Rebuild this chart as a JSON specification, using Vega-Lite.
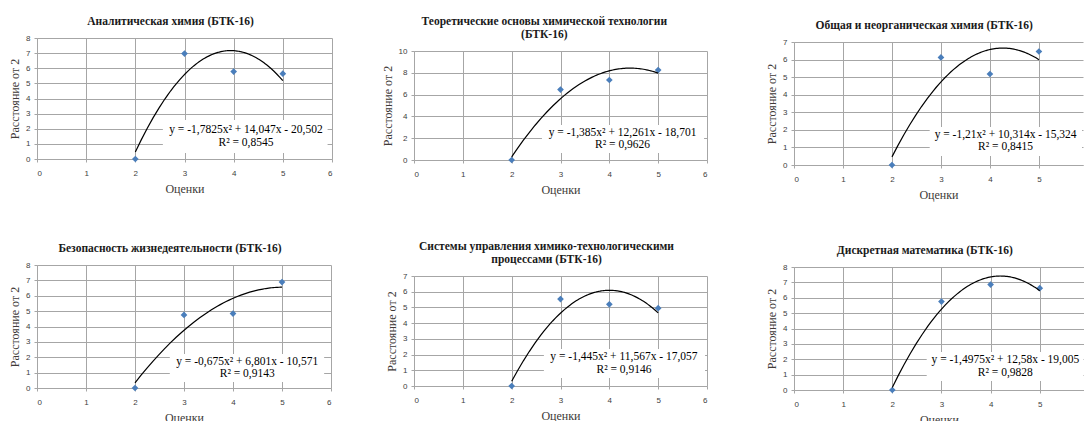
{
  "$schema": "https://vega.github.io/schema/vega-lite/v6.json",
  "padding": {"left": 8, "top": 3, "right": 0, "bottom": 0},
  "background": "white",
  "datasets": {
    "pts": [
      {"s": "A", "grade": 2, "dist": 0}, {"s": "A", "grade": 3, "dist": 6.97}, {"s": "A", "grade": 4, "dist": 5.78}, {"s": "A", "grade": 5, "dist": 5.64},
      {"s": "B", "grade": 2, "dist": 0}, {"s": "B", "grade": 3, "dist": 6.46}, {"s": "B", "grade": 4, "dist": 7.34}, {"s": "B", "grade": 5, "dist": 8.25},
      {"s": "C", "grade": 2, "dist": 0}, {"s": "C", "grade": 3, "dist": 6.12}, {"s": "C", "grade": 4, "dist": 5.18}, {"s": "C", "grade": 5, "dist": 6.46},
      {"s": "D", "grade": 2, "dist": 0}, {"s": "D", "grade": 3, "dist": 4.75}, {"s": "D", "grade": 4, "dist": 4.84}, {"s": "D", "grade": 5, "dist": 6.89},
      {"s": "E", "grade": 2, "dist": 0}, {"s": "E", "grade": 3, "dist": 5.53}, {"s": "E", "grade": 4, "dist": 5.20}, {"s": "E", "grade": 5, "dist": 4.95},
      {"s": "F", "grade": 2, "dist": 0}, {"s": "F", "grade": 3, "dist": 5.75}, {"s": "F", "grade": 4, "dist": 6.86}, {"s": "F", "grade": 5, "dist": 6.62}
    ],
    "ann": [
      {"s": "A", "eq": "y = -1,7825x² + 14,047x - 20,502", "r2": "R² = 0,8545"},
      {"s": "B", "eq": "y = -1,385x² + 12,261x - 18,701", "r2": "R² = 0,9626"},
      {"s": "C", "eq": "y = -1,21x² + 10,314x - 15,324", "r2": "R² = 0,8415"},
      {"s": "D", "eq": "y = -0,675x² + 6,801x - 10,571", "r2": "R² = 0,9143"},
      {"s": "E", "eq": "y = -1,445x² + 11,567x - 17,057", "r2": "R² = 0,9146"},
      {"s": "F", "eq": "y = -1,4975x² + 12,58x - 19,005", "r2": "R² = 0,9828"}
    ],
    "blank": [{}]
  },
  "config": {
    "view": {"stroke": null},
    "axis": {
      "grid": true,
      "gridColor": "#a6a6a6", "domainColor": "#a6a6a6", "tickColor": "#a6a6a6",
      "tickSize": 3, "labelFont": "Liberation Sans", "labelFontSize": 8, "labelColor": "#404040",
      "titleFont": "Liberation Serif", "titleFontWeight": "normal", "titleFontSize": 12, "titleColor": "#403a38"
    },
    "axisX": {"labelPadding": 7, "titlePadding": 6},
    "axisY": {"labelPadding": 4, "titlePadding": 4},
    "title": {"font": "Liberation Serif", "fontSize": 11.5, "fontWeight": "bold", "color": "#1a1a1a", "frame": "bounds", "anchor": "middle", "offset": 7, "lineHeight": 13},
    "text": {"font": "Liberation Serif", "fontSize": 11.5, "color": "black", "align": "center", "baseline": "middle"},
    "rect": {"fill": "white", "color": "white"},
    "point": {"shape": "diamond", "filled": true, "color": "#4a7ebb", "size": 45, "opacity": 1},
    "line": {"color": "black", "strokeWidth": 1.2}
  },
  "hconcat": [
    {
      "hconcat": [
        {
          "vconcat": [
            {
              "vconcat": [
                {"width": 1, "height": 1, "data": {"name": "blank"}, "mark": {"type": "text", "text": ""}, "encoding": {}},
                {
                  "width": 295, "height": 121,
                  "title": {"text": "Аналитическая химия (БТК-16)"},
                  "layer": [
                    {"data": {"name": "pts"}, "transform": [{"filter": "datum.s === 'A'"}], "mark": "point",
                     "encoding": {
                       "x": {"field": "grade", "type": "quantitative", "scale": {"domain": [0, 6], "nice": false}, "axis": {"values": [0, 1, 2, 3, 4, 5, 6], "title": "Оценки"}},
                       "y": {"field": "dist", "type": "quantitative", "scale": {"domain": [0, 8], "nice": false}, "axis": {"values": [0, 1, 2, 3, 4, 5, 6, 7, 8], "title": "Расстояние от 2"}}}},
                    {"data": {"name": "pts"}, "transform": [{"filter": "datum.s === 'A'"}, {"regression": "dist", "on": "grade", "method": "poly", "order": 2, "extent": [2, 5]}],
                     "mark": "line", "encoding": {
                       "x": {"field": "grade", "type": "quantitative", "scale": {"domain": [0, 6], "nice": false}, "axis": {"values": [0, 1, 2, 3, 4, 5, 6], "title": "Оценки"}},
                       "y": {"field": "dist", "type": "quantitative", "scale": {"domain": [0, 8], "nice": false}, "axis": {"values": [0, 1, 2, 3, 4, 5, 6, 7, 8], "title": "Расстояние от 2"}}}},
                    {"data": {"name": "ann"}, "transform": [{"filter": "datum.s === 'A'"}], "mark": "rect",
                     "encoding": {
                       "x": {"datum": 2.56, "type": "quantitative", "scale": {"domain": [0, 6], "nice": false}, "axis": {"values": [0, 1, 2, 3, 4, 5, 6], "title": "Оценки"}}, "x2": {"datum": 5.91},
                       "y": {"datum": 0.4, "type": "quantitative", "scale": {"domain": [0, 8], "nice": false}, "axis": {"values": [0, 1, 2, 3, 4, 5, 6, 7, 8], "title": "Расстояние от 2"}}, "y2": {"datum": 2.58}}},
                    {"data": {"name": "ann"}, "transform": [{"filter": "datum.s === 'A'"}], "mark": "text",
                     "encoding": {
                       "x": {"datum": 4.25, "type": "quantitative", "scale": {"domain": [0, 6], "nice": false}, "axis": {"values": [0, 1, 2, 3, 4, 5, 6], "title": "Оценки"}},
                       "y": {"datum": 1.92, "type": "quantitative", "scale": {"domain": [0, 8], "nice": false}, "axis": {"values": [0, 1, 2, 3, 4, 5, 6, 7, 8], "title": "Расстояние от 2"}},
                       "text": {"field": "eq", "type": "nominal"}}},
                    {"data": {"name": "ann"}, "transform": [{"filter": "datum.s === 'A'"}], "mark": "text",
                     "encoding": {
                       "x": {"datum": 4.25, "type": "quantitative", "scale": {"domain": [0, 6], "nice": false}, "axis": {"values": [0, 1, 2, 3, 4, 5, 6], "title": "Оценки"}},
                       "y": {"datum": 1.06, "type": "quantitative", "scale": {"domain": [0, 8], "nice": false}, "axis": {"values": [0, 1, 2, 3, 4, 5, 6, 7, 8], "title": "Расстояние от 2"}},
                       "text": {"field": "r2", "type": "nominal"}}}
                  ]
                }
              ],
              "spacing": 0
            },
            {
              "width": 294, "height": 123,
              "title": {"text": "Безопасность жизнедеятельности (БТК-16)"},
              "layer": [
                {"data": {"name": "pts"}, "transform": [{"filter": "datum.s === 'D'"}], "mark": "point",
                 "encoding": {
                   "x": {"field": "grade", "type": "quantitative", "scale": {"domain": [0, 6], "nice": false}, "axis": {"values": [0, 1, 2, 3, 4, 5, 6], "title": "Оценки"}},
                   "y": {"field": "dist", "type": "quantitative", "scale": {"domain": [0, 8], "nice": false}, "axis": {"values": [0, 1, 2, 3, 4, 5, 6, 7, 8], "title": "Расстояние от 2"}}}},
                {"data": {"name": "pts"}, "transform": [{"filter": "datum.s === 'D'"}, {"regression": "dist", "on": "grade", "method": "poly", "order": 2, "extent": [2, 5]}],
                 "mark": "line", "encoding": {
                   "x": {"field": "grade", "type": "quantitative", "scale": {"domain": [0, 6], "nice": false}, "axis": {"values": [0, 1, 2, 3, 4, 5, 6], "title": "Оценки"}},
                   "y": {"field": "dist", "type": "quantitative", "scale": {"domain": [0, 8], "nice": false}, "axis": {"values": [0, 1, 2, 3, 4, 5, 6, 7, 8], "title": "Расстояние от 2"}}}},
                {"data": {"name": "ann"}, "transform": [{"filter": "datum.s === 'D'"}], "mark": "rect",
                 "encoding": {
                   "x": {"datum": 2.71, "type": "quantitative", "scale": {"domain": [0, 6], "nice": false}, "axis": {"values": [0, 1, 2, 3, 4, 5, 6], "title": "Оценки"}}, "x2": {"datum": 5.86},
                   "y": {"datum": 0.39, "type": "quantitative", "scale": {"domain": [0, 8], "nice": false}, "axis": {"values": [0, 1, 2, 3, 4, 5, 6, 7, 8], "title": "Расстояние от 2"}}, "y2": {"datum": 2.21}}},
                {"data": {"name": "ann"}, "transform": [{"filter": "datum.s === 'D'"}], "mark": "text",
                 "encoding": {
                   "x": {"datum": 4.29, "type": "quantitative", "scale": {"domain": [0, 6], "nice": false}, "axis": {"values": [0, 1, 2, 3, 4, 5, 6], "title": "Оценки"}},
                   "y": {"datum": 1.69, "type": "quantitative", "scale": {"domain": [0, 8], "nice": false}, "axis": {"values": [0, 1, 2, 3, 4, 5, 6, 7, 8], "title": "Расстояние от 2"}},
                   "text": {"field": "eq", "type": "nominal"}}},
                {"data": {"name": "ann"}, "transform": [{"filter": "datum.s === 'D'"}], "mark": "text",
                 "encoding": {
                   "x": {"datum": 4.29, "type": "quantitative", "scale": {"domain": [0, 6], "nice": false}, "axis": {"values": [0, 1, 2, 3, 4, 5, 6], "title": "Оценки"}},
                   "y": {"datum": 0.91, "type": "quantitative", "scale": {"domain": [0, 8], "nice": false}, "axis": {"values": [0, 1, 2, 3, 4, 5, 6, 7, 8], "title": "Расстояние от 2"}},
                   "text": {"field": "r2", "type": "nominal"}}}
              ]
            }
          ],
          "spacing": 48
        },
        {
          "vconcat": [
            {
              "vconcat": [
                {"width": 1, "height": 1, "data": {"name": "blank"}, "mark": {"type": "text", "text": ""}, "encoding": {}},
                {
                  "width": 293, "height": 109,
                  "title": {"text": ["Теоретические основы химической технологии", "(БТК-16)"]},
                  "layer": [
                    {"data": {"name": "pts"}, "transform": [{"filter": "datum.s === 'B'"}], "mark": "point",
                     "encoding": {
                       "x": {"field": "grade", "type": "quantitative", "scale": {"domain": [0, 6], "nice": false}, "axis": {"values": [0, 1, 2, 3, 4, 5, 6], "title": "Оценки"}},
                       "y": {"field": "dist", "type": "quantitative", "scale": {"domain": [0, 10], "nice": false}, "axis": {"values": [0, 2, 4, 6, 8, 10], "title": "Расстояние от 2"}}}},
                    {"data": {"name": "pts"}, "transform": [{"filter": "datum.s === 'B'"}, {"regression": "dist", "on": "grade", "method": "poly", "order": 2, "extent": [2, 5]}],
                     "mark": "line", "encoding": {
                       "x": {"field": "grade", "type": "quantitative", "scale": {"domain": [0, 6], "nice": false}, "axis": {"values": [0, 1, 2, 3, 4, 5, 6], "title": "Оценки"}},
                       "y": {"field": "dist", "type": "quantitative", "scale": {"domain": [0, 10], "nice": false}, "axis": {"values": [0, 2, 4, 6, 8, 10], "title": "Расстояние от 2"}}}},
                    {"data": {"name": "ann"}, "transform": [{"filter": "datum.s === 'B'"}], "mark": "rect",
                     "encoding": {
                       "x": {"datum": 2.62, "type": "quantitative", "scale": {"domain": [0, 6], "nice": false}, "axis": {"values": [0, 1, 2, 3, 4, 5, 6], "title": "Оценки"}}, "x2": {"datum": 5.94},
                       "y": {"datum": 0.64, "type": "quantitative", "scale": {"domain": [0, 10], "nice": false}, "axis": {"values": [0, 2, 4, 6, 8, 10], "title": "Расстояние от 2"}}, "y2": {"datum": 3.2}}},
                    {"data": {"name": "ann"}, "transform": [{"filter": "datum.s === 'B'"}], "mark": "text",
                     "encoding": {
                       "x": {"datum": 4.27, "type": "quantitative", "scale": {"domain": [0, 6], "nice": false}, "axis": {"values": [0, 1, 2, 3, 4, 5, 6], "title": "Оценки"}},
                       "y": {"datum": 2.48, "type": "quantitative", "scale": {"domain": [0, 10], "nice": false}, "axis": {"values": [0, 2, 4, 6, 8, 10], "title": "Расстояние от 2"}},
                       "text": {"field": "eq", "type": "nominal"}}},
                    {"data": {"name": "ann"}, "transform": [{"filter": "datum.s === 'B'"}], "mark": "text",
                     "encoding": {
                       "x": {"datum": 4.27, "type": "quantitative", "scale": {"domain": [0, 6], "nice": false}, "axis": {"values": [0, 1, 2, 3, 4, 5, 6], "title": "Оценки"}},
                       "y": {"datum": 1.38, "type": "quantitative", "scale": {"domain": [0, 10], "nice": false}, "axis": {"values": [0, 2, 4, 6, 8, 10], "title": "Расстояние от 2"}},
                       "text": {"field": "r2", "type": "nominal"}}}
                  ]
                }
              ],
              "spacing": 0
            },
            {
              "width": 293, "height": 110,
              "title": {"text": ["Системы управления химико-технологическими", "процессами (БТК-16)"]},
              "layer": [
                {"data": {"name": "pts"}, "transform": [{"filter": "datum.s === 'E'"}], "mark": "point",
                 "encoding": {
                   "x": {"field": "grade", "type": "quantitative", "scale": {"domain": [0, 6], "nice": false}, "axis": {"values": [0, 1, 2, 3, 4, 5, 6], "title": "Оценки"}},
                   "y": {"field": "dist", "type": "quantitative", "scale": {"domain": [0, 7], "nice": false}, "axis": {"values": [0, 1, 2, 3, 4, 5, 6, 7], "title": "Расстояние от 2"}}}},
                {"data": {"name": "pts"}, "transform": [{"filter": "datum.s === 'E'"}, {"regression": "dist", "on": "grade", "method": "poly", "order": 2, "extent": [2, 5]}],
                 "mark": "line", "encoding": {
                   "x": {"field": "grade", "type": "quantitative", "scale": {"domain": [0, 6], "nice": false}, "axis": {"values": [0, 1, 2, 3, 4, 5, 6], "title": "Оценки"}},
                   "y": {"field": "dist", "type": "quantitative", "scale": {"domain": [0, 7], "nice": false}, "axis": {"values": [0, 1, 2, 3, 4, 5, 6, 7], "title": "Расстояние от 2"}}}},
                {"data": {"name": "ann"}, "transform": [{"filter": "datum.s === 'E'"}], "mark": "rect",
                 "encoding": {
                   "x": {"datum": 2.66, "type": "quantitative", "scale": {"domain": [0, 6], "nice": false}, "axis": {"values": [0, 1, 2, 3, 4, 5, 6], "title": "Оценки"}}, "x2": {"datum": 5.96},
                   "y": {"datum": 0.51, "type": "quantitative", "scale": {"domain": [0, 7], "nice": false}, "axis": {"values": [0, 1, 2, 3, 4, 5, 6, 7], "title": "Расстояние от 2"}}, "y2": {"datum": 2.36}}},
                {"data": {"name": "ann"}, "transform": [{"filter": "datum.s === 'E'"}], "mark": "text",
                 "encoding": {
                   "x": {"datum": 4.30, "type": "quantitative", "scale": {"domain": [0, 6], "nice": false}, "axis": {"values": [0, 1, 2, 3, 4, 5, 6], "title": "Оценки"}},
                   "y": {"datum": 1.85, "type": "quantitative", "scale": {"domain": [0, 7], "nice": false}, "axis": {"values": [0, 1, 2, 3, 4, 5, 6, 7], "title": "Расстояние от 2"}},
                   "text": {"field": "eq", "type": "nominal"}}},
                {"data": {"name": "ann"}, "transform": [{"filter": "datum.s === 'E'"}], "mark": "text",
                 "encoding": {
                   "x": {"datum": 4.30, "type": "quantitative", "scale": {"domain": [0, 6], "nice": false}, "axis": {"values": [0, 1, 2, 3, 4, 5, 6], "title": "Оценки"}},
                   "y": {"datum": 1.02, "type": "quantitative", "scale": {"domain": [0, 7], "nice": false}, "axis": {"values": [0, 1, 2, 3, 4, 5, 6, 7], "title": "Расстояние от 2"}},
                   "text": {"field": "r2", "type": "nominal"}}}
              ]
            }
          ],
          "spacing": 45
        }
      ],
      "spacing": 48
    },
    {
      "vconcat": [
        {
          "vconcat": [
            {"width": 1, "height": 8, "data": {"name": "blank"}, "mark": {"type": "text", "text": ""}, "encoding": {}},
            {
              "width": 289, "height": 123,
              "title": {"text": "Общая и неорганическая химия (БТК-16)"},
              "layer": [
                {"data": {"name": "pts"}, "transform": [{"filter": "datum.s === 'C'"}], "mark": "point",
                 "encoding": {
                   "x": {"field": "grade", "type": "quantitative", "scale": {"domain": [0, 5.9], "nice": false}, "axis": {"values": [0, 1, 2, 3, 4, 5], "title": "Оценки"}},
                   "y": {"field": "dist", "type": "quantitative", "scale": {"domain": [0, 7], "nice": false}, "axis": {"values": [0, 1, 2, 3, 4, 5, 6, 7], "title": "Расстояние от 2"}}}},
                {"data": {"name": "pts"}, "transform": [{"filter": "datum.s === 'C'"}, {"regression": "dist", "on": "grade", "method": "poly", "order": 2, "extent": [2, 5]}],
                 "mark": "line", "encoding": {
                   "x": {"field": "grade", "type": "quantitative", "scale": {"domain": [0, 5.9], "nice": false}, "axis": {"values": [0, 1, 2, 3, 4, 5], "title": "Оценки"}},
                   "y": {"field": "dist", "type": "quantitative", "scale": {"domain": [0, 7], "nice": false}, "axis": {"values": [0, 1, 2, 3, 4, 5, 6, 7], "title": "Расстояние от 2"}}}},
                {"data": {"name": "ann"}, "transform": [{"filter": "datum.s === 'C'"}], "mark": "rect",
                 "encoding": {
                   "x": {"datum": 2.77, "type": "quantitative", "scale": {"domain": [0, 5.9], "nice": false}, "axis": {"values": [0, 1, 2, 3, 4, 5], "title": "Оценки"}}, "x2": {"datum": 5.88},
                   "y": {"datum": 0.51, "type": "quantitative", "scale": {"domain": [0, 7], "nice": false}, "axis": {"values": [0, 1, 2, 3, 4, 5, 6, 7], "title": "Расстояние от 2"}}, "y2": {"datum": 2.16}}},
                {"data": {"name": "ann"}, "transform": [{"filter": "datum.s === 'C'"}], "mark": "text",
                 "encoding": {
                   "x": {"datum": 4.32, "type": "quantitative", "scale": {"domain": [0, 5.9], "nice": false}, "axis": {"values": [0, 1, 2, 3, 4, 5], "title": "Оценки"}},
                   "y": {"datum": 1.71, "type": "quantitative", "scale": {"domain": [0, 7], "nice": false}, "axis": {"values": [0, 1, 2, 3, 4, 5, 6, 7], "title": "Расстояние от 2"}},
                   "text": {"field": "eq", "type": "nominal"}}},
                {"data": {"name": "ann"}, "transform": [{"filter": "datum.s === 'C'"}], "mark": "text",
                 "encoding": {
                   "x": {"datum": 4.32, "type": "quantitative", "scale": {"domain": [0, 5.9], "nice": false}, "axis": {"values": [0, 1, 2, 3, 4, 5], "title": "Оценки"}},
                   "y": {"datum": 1.02, "type": "quantitative", "scale": {"domain": [0, 7], "nice": false}, "axis": {"values": [0, 1, 2, 3, 4, 5, 6, 7], "title": "Расстояние от 2"}},
                   "text": {"field": "r2", "type": "nominal"}}}
              ]
            }
          ],
          "spacing": 0
        },
        {
          "width": 290, "height": 123,
          "title": {"text": "Дискретная математика (БТК-16)"},
          "layer": [
            {"data": {"name": "pts"}, "transform": [{"filter": "datum.s === 'F'"}], "mark": "point",
             "encoding": {
               "x": {"field": "grade", "type": "quantitative", "scale": {"domain": [0, 5.9], "nice": false}, "axis": {"values": [0, 1, 2, 3, 4, 5], "title": "Оценки"}},
               "y": {"field": "dist", "type": "quantitative", "scale": {"domain": [0, 8], "nice": false}, "axis": {"values": [0, 1, 2, 3, 4, 5, 6, 7, 8], "title": "Расстояние от 2"}}}},
            {"data": {"name": "pts"}, "transform": [{"filter": "datum.s === 'F'"}, {"regression": "dist", "on": "grade", "method": "poly", "order": 2, "extent": [2, 5]}],
             "mark": "line", "encoding": {
               "x": {"field": "grade", "type": "quantitative", "scale": {"domain": [0, 5.9], "nice": false}, "axis": {"values": [0, 1, 2, 3, 4, 5], "title": "Оценки"}},
               "y": {"field": "dist", "type": "quantitative", "scale": {"domain": [0, 8], "nice": false}, "axis": {"values": [0, 1, 2, 3, 4, 5, 6, 7, 8], "title": "Расстояние от 2"}}}},
            {"data": {"name": "ann"}, "transform": [{"filter": "datum.s === 'F'"}], "mark": "rect",
             "encoding": {
               "x": {"datum": 2.70, "type": "quantitative", "scale": {"domain": [0, 5.9], "nice": false}, "axis": {"values": [0, 1, 2, 3, 4, 5], "title": "Оценки"}}, "x2": {"datum": 5.89},
               "y": {"datum": 0.59, "type": "quantitative", "scale": {"domain": [0, 8], "nice": false}, "axis": {"values": [0, 1, 2, 3, 4, 5, 6, 7, 8], "title": "Расстояние от 2"}}, "y2": {"datum": 2.47}}},
            {"data": {"name": "ann"}, "transform": [{"filter": "datum.s === 'F'"}], "mark": "text",
             "encoding": {
               "x": {"datum": 4.30, "type": "quantitative", "scale": {"domain": [0, 5.9], "nice": false}, "axis": {"values": [0, 1, 2, 3, 4, 5], "title": "Оценки"}},
               "y": {"datum": 1.95, "type": "quantitative", "scale": {"domain": [0, 8], "nice": false}, "axis": {"values": [0, 1, 2, 3, 4, 5, 6, 7, 8], "title": "Расстояние от 2"}},
               "text": {"field": "eq", "type": "nominal"}}},
            {"data": {"name": "ann"}, "transform": [{"filter": "datum.s === 'F'"}], "mark": "text",
             "encoding": {
               "x": {"datum": 4.30, "type": "quantitative", "scale": {"domain": [0, 5.9], "nice": false}, "axis": {"values": [0, 1, 2, 3, 4, 5], "title": "Оценки"}},
               "y": {"datum": 1.1, "type": "quantitative", "scale": {"domain": [0, 8], "nice": false}, "axis": {"values": [0, 1, 2, 3, 4, 5, 6, 7, 8], "title": "Расстояние от 2"}},
               "text": {"field": "r2", "type": "nominal"}}}
          ]
        }
      ],
      "spacing": 44
    }
  ],
  "spacing": 57
}
